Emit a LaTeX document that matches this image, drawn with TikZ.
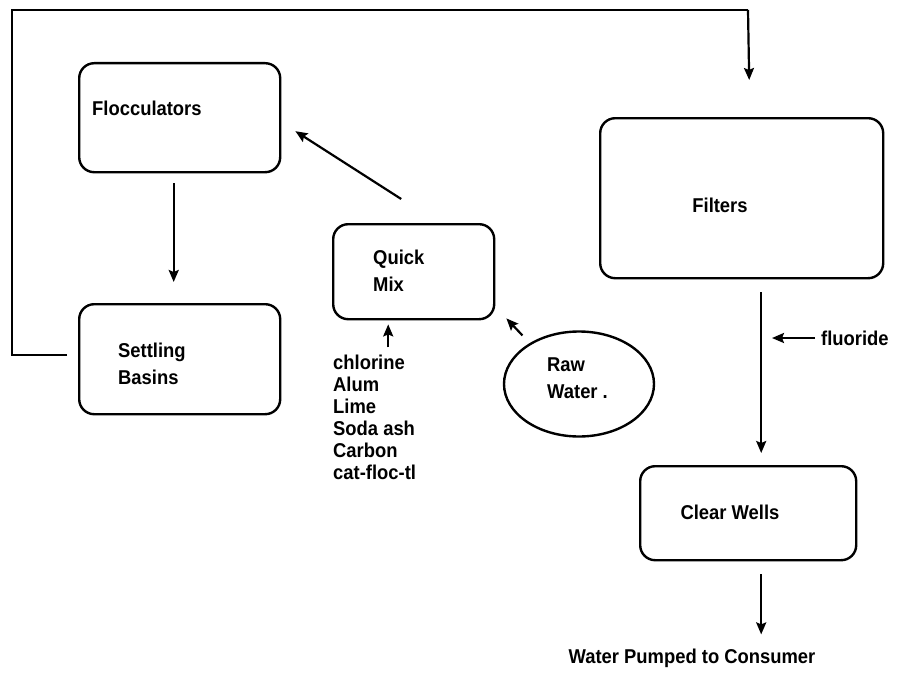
\documentclass[tikz,border=0pt]{standalone}
\usepackage{fontspec}
\setmainfont{Liberation Sans}[FakeStretch=0.92]
\usetikzlibrary{arrows.meta,shapes.geometric}
\tikzset{
  box/.style={draw, line width=2.4pt, rounded corners=15pt, inner sep=0pt, anchor=north west},
  lbl/.style={font=\fontsize{20}{27}\selectfont\bfseries, inner sep=0pt, align=left},
  arr/.style={line width=2.2pt, -{Stealth[length=12pt,width=10pt,inset=2pt]}},
  ln/.style={line width=2.2pt}
}
\begin{document}
\begin{tikzpicture}[x=1pt,y=-1pt]
\useasboundingbox (0,0) rectangle (902,677);
% boxes
\node[box, minimum width=201pt, minimum height=109pt] (floc) at (78,62) {};
\node[box, minimum width=201pt, minimum height=110pt] (sb) at (78,303) {};
\node[box, minimum width=161pt, minimum height=95pt] (qm) at (332,223) {};
\node[box, minimum width=283pt, minimum height=160pt] (fil) at (599,117) {};
\node[box, minimum width=216pt, minimum height=94pt] (cw) at (639,465) {};
\node[draw, line width=2.4pt, ellipse, minimum width=150pt, minimum height=105pt, inner sep=0pt] (raw) at (579,384) {};
% texts
\node[lbl, anchor=west] (tfloc) at (92,108) {Flocculators};
\node[lbl, anchor=west] (tsb) at (118,364) {Settling\\Basins};
\node[lbl, anchor=west] (tqm) at (373,271) {Quick\\Mix};
\node[lbl] (tfil) at (720,205) {Filters};
\node[lbl] (tcw) at (730,512) {Clear Wells};
\node[lbl, anchor=west] (tfl) at (821,338) {fluoride};
\node[lbl, anchor=west] (traw) at (547,378) {Raw\\Water .};
\node[lbl, anchor=north west, font=\fontsize{20}{22}\selectfont\bfseries] (chem) at (333,355) {chlorine\\Alum\\Lime\\Soda ash\\Carbon\\cat-floc-tl};
\node[lbl] (out) at (692,658) {Water Pumped to Consumer};
% connectors
\draw[arr] ([xshift=-6pt,yshift=-10pt]floc.south) -- ([xshift=-6pt,yshift=21pt]sb.north);
\draw[arr] ([xshift=-12.5pt,yshift=24pt]qm.north) -- ([xshift=14pt,yshift=-13.5pt]floc.east);
\draw[arr] ([xshift=-25.5pt,yshift=-27pt]qm.south) -- ([xshift=-25.5pt,yshift=-4pt]qm.south);
\draw[arr] ([xshift=27pt,yshift=-15pt]qm.south east) -- ([xshift=11pt,yshift=2pt]qm.south east);
\draw[arr] ([xshift=19.5pt,yshift=-13pt]fil.south) -- ([xshift=13pt,yshift=12pt]cw.north);
\draw[arr] ([xshift=-6pt]tfl.west) -- ([xshift=-49pt]tfl.west);
\draw[arr] ([xshift=13pt,yshift=-13pt]cw.south) -- ([xshift=13pt,yshift=-73pt]cw.south);
\coordinate (la) at (67,355);
\coordinate (lb) at (12,355);
\coordinate (lc) at (12,10);
\coordinate (ld) at (748,10);
\draw[ln] (la) -- (lb) -- (lc) -- (ld);
\draw[arr] (ld) -- ([xshift=7.5pt,yshift=37pt]fil.north);
\end{tikzpicture}
\end{document}
